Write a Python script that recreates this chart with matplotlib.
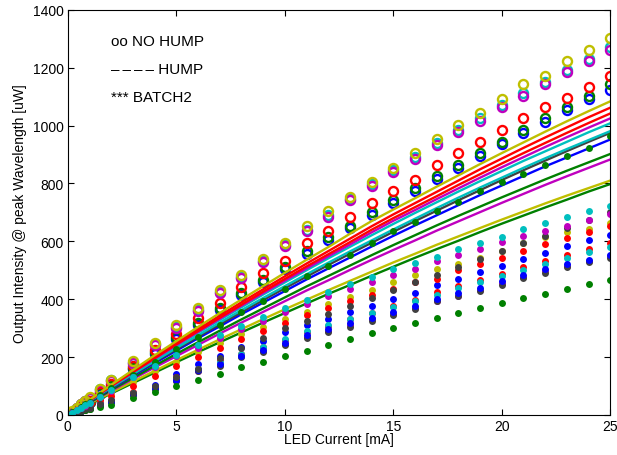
"""
LED output intensity vs current: NO HUMP (circles), HUMP (lines), BATCH2 (dots)
"""

import matplotlib
matplotlib.use("Agg")
import matplotlib.pyplot as plt

# MATLAB style colours
C_B = "#0000FF"
C_G = "#008000"
C_R = "#FF0000"
C_C = "#00BFBF"
C_M = "#BF00BF"
C_Y = "#BFBF00"
C_K = "#404040"

# current points for the measured (marker) series
x_pts = [0, 0.2, 0.4, 0.6, 0.8, 1, 1.5, 2, 3, 4, 5, 6, 7, 8, 9, 10, 11, 12,
         13, 14, 15, 16, 17, 18, 19, 20, 21, 22, 23, 24, 25]
# current points for the HUMP lines
x_line = [0, 1, 2, 3, 4, 5, 6, 7, 8, 9, 10, 11, 12, 13, 14, 15, 16, 17, 18,
          19, 20, 21, 22, 23, 24, 25]

# ---- NO HUMP (open circles) ----
nh_blue = [0, 9, 18, 27, 36, 45, 72, 98, 157, 212, 263, 312, 362, 413, 460, 503,
           556, 604, 645, 692, 733, 774, 815, 853, 895, 935, 974, 1014, 1054, 1092, 1124]
nh_green = [0, 9, 19, 28, 38, 46, 74, 101, 161, 217, 269, 318, 369, 421, 468, 511,
            565, 614, 654, 701, 743, 784, 825, 864, 905, 945, 985, 1025, 1064, 1104, 1144]
nh_red = [0, 10, 20, 30, 40, 49, 78, 107, 170, 226, 280, 334, 387, 441, 491, 533,
          594, 634, 683, 733, 775, 813, 864, 905, 944, 985, 1025, 1064, 1095, 1133, 1173]
nh_cyan = [0, 11, 24, 37, 48, 59, 88, 119, 181, 244, 305, 363, 426, 477, 533, 588,
           640, 690, 748, 798, 845, 892, 940, 984, 1025, 1072, 1112, 1150, 1192, 1232, 1272]
nh_magenta = [0, 11, 24, 36, 47, 58, 87, 117, 178, 240, 300, 358, 420, 472, 528, 585,
              634, 683, 743, 793, 839, 885, 933, 977, 1017, 1064, 1104, 1144, 1185, 1225, 1262]
nh_yellow = [0, 12, 25, 37, 49, 61, 90, 122, 186, 249, 311, 369, 433, 485, 540, 593,
             654, 704, 755, 804, 853, 904, 955, 1002, 1043, 1092, 1144, 1172, 1222, 1262, 1303]

# ---- HUMP (lines) ----
h_yellow = [0, 52, 104, 155, 206, 255, 304, 352, 399, 445, 491, 536, 580, 626, 670,
            710, 749, 789, 828, 867, 905, 942, 979, 1015, 1050, 1084]
h_red1 = [0, 51, 102, 151, 200, 249, 296, 343, 389, 434, 479, 523, 566, 609, 652,
          693, 732, 771, 810, 849, 886, 923, 959, 994, 1029, 1062]
h_red2 = [0, 50, 100, 148, 196, 244, 290, 336, 381, 426, 470, 513, 555, 597, 640,
          680, 718, 756, 795, 832, 869, 905, 940, 975, 1009, 1042]
h_magenta1 = [0, 50, 99, 147, 194, 241, 287, 332, 377, 421, 464, 506, 548, 589, 631,
              671, 708, 746, 783, 820, 856, 891, 926, 960, 993, 1025]
h_cyan1 = [0, 49, 98, 145, 192, 238, 284, 328, 372, 416, 458, 500, 541, 581, 621,
           660, 698, 735, 772, 808, 843, 878, 911, 944, 977, 1008]
h_cyan2 = [0, 48, 95, 141, 186, 231, 275, 319, 362, 404, 445, 486, 526, 565, 603,
           641, 678, 715, 751, 786, 820, 854, 887, 919, 950, 981]
h_gray = [0, 47, 93, 138, 183, 227, 270, 313, 355, 397, 438, 478, 518, 557, 595,
          633, 670, 706, 742, 777, 812, 846, 879, 912, 944, 975]
h_blue = [0, 46, 91, 135, 179, 222, 265, 306, 348, 388, 428, 468, 506, 544, 582,
          619, 655, 690, 725, 760, 793, 826, 859, 890, 921, 952]
h_green1 = [0, 43, 86, 128, 170, 211, 251, 291, 330, 368, 406, 444, 480, 516, 552,
            587, 621, 655, 688, 720, 752, 783, 814, 844, 873, 902]
h_magenta2 = [0, 42, 83, 124, 164, 203, 242, 281, 319, 356, 393, 430, 465, 501, 536,
              570, 603, 637, 669, 701, 733, 764, 795, 825, 854, 883]
h_yellow2 = [0, 39, 77, 115, 152, 189, 225, 261, 296, 331, 365, 398, 431, 463, 495,
             527, 557, 588, 617, 646, 675, 703, 731, 758, 784, 810]
h_green2 = [0, 37, 74, 110, 146, 182, 217, 251, 285, 319, 352, 385, 418, 449, 481,
            512, 543, 573, 602, 632, 661, 689, 717, 744, 772, 798]

# ---- BATCH2 (dots) ----
b2_blue1 = [0, 5, 11, 16, 22, 27, 40, 52, 76, 105, 140, 176, 205, 234, 255, 286,
            309, 331, 354, 377, 400, 422, 450, 470, 494, 515, 540, 560, 583, 603, 623]
b2_green_mid = [0, 9, 18, 27, 37, 46, 70, 93, 138, 183, 228, 269, 312, 355, 395, 435,
                479, 516, 554, 595, 634, 668, 704, 735, 773, 804, 833, 864, 894, 924, 963]
b2_red1 = [0, 5, 10, 15, 20, 25, 38, 49, 78, 95, 130, 157, 188, 211, 234, 260,
           286, 308, 330, 352, 375, 397, 426, 445, 466, 488, 510, 531, 552, 572, 593]
b2_cyan1 = [0, 5, 10, 15, 20, 25, 37, 48, 74, 96, 127, 160, 182, 212, 236, 262,
            290, 310, 332, 352, 373, 393, 415, 437, 458, 480, 502, 522, 542, 562, 580]
b2_magenta1 = [0, 5, 9, 14, 18, 23, 34, 45, 70, 90, 120, 152, 172, 202, 220, 244,
               270, 290, 310, 330, 350, 370, 392, 412, 432, 455, 477, 497, 515, 532, 548]
b2_yellow = [0, 7, 14, 21, 28, 36, 55, 76, 115, 150, 182, 217, 248, 278, 305, 332,
             357, 384, 409, 432, 459, 482, 505, 522, 543, 566, 593, 614, 631, 643, 664]
b2_gray1 = [0, 4, 9, 13, 18, 22, 33, 44, 68, 88, 118, 150, 168, 199, 217, 240,
            265, 285, 305, 325, 345, 365, 395, 410, 430, 450, 472, 492, 510, 527, 543]
b2_blue2 = [0, 5, 10, 14, 19, 24, 35, 46, 72, 92, 122, 155, 175, 205, 225, 250,
            275, 296, 316, 336, 356, 376, 400, 420, 440, 462, 484, 503, 520, 537, 553]
b2_green_low = [0, 4, 8, 12, 16, 20, 27, 34, 59, 78, 101, 121, 142, 165, 184, 205,
                222, 243, 263, 282, 300, 317, 335, 352, 368, 386, 403, 418, 435, 452, 467]
b2_red2 = [0, 7, 13, 20, 26, 33, 50, 66, 100, 135, 170, 200, 232, 262, 290, 318,
           345, 368, 392, 413, 436, 458, 470, 502, 521, 543, 566, 590, 611, 632, 654]
b2_cyan2 = [0, 8, 17, 25, 33, 41, 63, 86, 130, 170, 208, 240, 275, 307, 338, 369,
            398, 426, 453, 476, 505, 524, 545, 574, 593, 614, 643, 664, 683, 704, 723]
b2_magenta2 = [0, 8, 16, 24, 32, 40, 63, 84, 130, 165, 205, 230, 265, 297, 326, 357,
               383, 410, 436, 458, 484, 505, 531, 553, 574, 597, 618, 635, 654, 675, 695]
b2_gray2 = [0, 5, 10, 15, 20, 25, 38, 50, 76, 100, 130, 160, 195, 230, 265, 301,
            323, 350, 377, 404, 431, 458, 485, 512, 539, 566, 593, 620, 647, 674, 701]


def main():
    plt.rcParams["font.family"] = ["Liberation Sans", "DejaVu Sans"]
    fig = plt.figure(figsize=(6.17, 4.56), dpi=100)
    ax = fig.add_axes([0.110, 0.088, 0.879, 0.888])

    circles = [(nh_blue, C_B), (nh_green, C_G), (nh_red, C_R),
               (nh_cyan, C_C), (nh_magenta, C_M), (nh_yellow, C_Y)]
    for ys, col in circles:
        ax.plot(x_pts, ys, "o", mfc="none", mec=col, ms=6.5, mew=1.7)

    lines = [(h_green2, C_G), (h_yellow2, C_Y), (h_magenta2, C_M),
             (h_green1, C_G), (h_blue, C_B), (h_gray, C_K), (h_cyan2, C_C),
             (h_cyan1, C_C), (h_magenta1, C_M), (h_red2, C_R), (h_red1, C_R),
             (h_yellow, C_Y)]
    for ys, col in lines:
        ax.plot(x_line, ys, "-", color=col, lw=1.7)

    dots = [(b2_blue1, C_B), (b2_green_mid, C_G), (b2_red1, C_R),
            (b2_cyan1, C_C), (b2_magenta1, C_M), (b2_yellow, C_Y),
            (b2_gray1, C_K), (b2_blue2, C_B), (b2_green_low, C_G),
            (b2_red2, C_R), (b2_gray2, C_K), (b2_magenta2, C_M),
            (b2_cyan2, C_C)]
    for ys, col in dots:
        ax.plot(x_pts, ys, "o", color=col, ms=5.0, mew=0)

    ax.text(2.0, 1293, "oo NO HUMP", fontsize=11, va="center")
    ax.text(2.0, 1196, "\u2013\u2009\u2013\u2009\u2013\u2009\u2013 HUMP",
            fontsize=11, va="center")
    ax.text(2.0, 1099, "*** BATCH2", fontsize=11, va="center")

    ax.set_xlim(0, 25)
    ax.set_ylim(0, 1400)
    ax.set_xticks([0, 5, 10, 15, 20, 25])
    ax.set_yticks(range(0, 1401, 200))
    ax.tick_params(direction="in", top=True, right=True, labelsize=10,
                   length=4, width=0.8, pad=3)
    for s in ax.spines.values():
        s.set_linewidth(0.8)
    ax.set_xlabel("LED Current [mA]", fontsize=10, labelpad=-1)
    ax.set_ylabel("Output Intensity @ peak Wavelength [uW]", fontsize=10,
                  labelpad=4)

    plt.savefig("out.png", dpi=100)


main()
